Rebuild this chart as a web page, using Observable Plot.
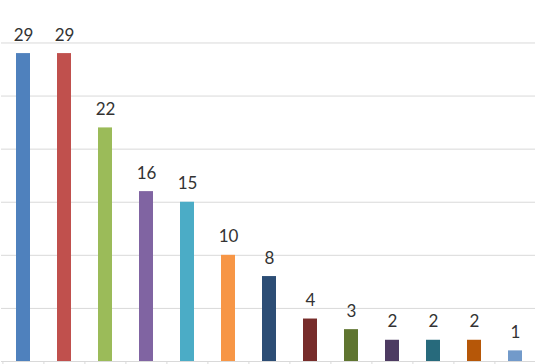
<!DOCTYPE html>
<html>
<head>
<meta charset="utf-8">
<script src="https://cdn.jsdelivr.net/npm/d3@7"></script>
<script src="https://cdn.jsdelivr.net/npm/@observablehq/plot@0.6"></script>
<style>
  html, body { margin: 0; padding: 0; background: #fff; }
  #chart svg { display: block; }
</style>
</head>
<body>
<div id="chart"></div>
<script>
const categories = ["A","B","C","D","E","F","G","H","I","J","K","L","M"];
const values = [29, 29, 22, 16, 15, 10, 8, 4, 3, 2, 2, 2, 1];
const colors = ["#4F81BD","#C0504D","#9BBB59","#8064A2","#4BACC6","#F79646",
                "#2C4D75","#772C2A","#5F7530","#4D3B62","#276A7C","#B65708","#729ACA"];
const gridValues = [5, 10, 15, 20, 25, 30];

const data = categories.map((c, i) => ({cat: c, value: values[i], color: colors[i]}));

const chart = Plot.plot({
  width: 535,
  height: 364,
  marginTop: 0,
  marginBottom: 3,
  marginLeft: 1,
  marginRight: -2,
  x: {domain: categories, paddingInner: 0.65, paddingOuter: 0.325, axis: null},
  y: {domain: [0, 34], axis: null},
  style: {fontFamily: "Lato, sans-serif", background: "#fff"},
  marks: [
    Plot.ruleY(gridValues, {stroke: "#d9d9d9", strokeWidth: 1}),
    Plot.barY(data, {x: "cat", y: "value", fill: "color"}),
    Plot.ruleY([0], {stroke: "#d9d9d9", strokeWidth: 1}),
    Plot.ruleX(data, {x: "cat", dx: -20.6, y1: 0, y2: 0, insetBottom: -4, stroke: "#d9d9d9"}),
    Plot.text(data, {x: "cat", y: "value", text: d => String(d.value), dy: -13, lineAnchor: "bottom",
      fontSize: 17, fill: "#333"})
  ]
});
document.getElementById("chart").appendChild(chart);
</script>
</body>
</html>
